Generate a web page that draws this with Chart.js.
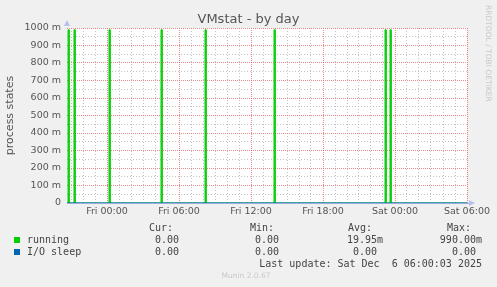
<!DOCTYPE html>
<html><head><meta charset="utf-8">
<script src="https://cdn.jsdelivr.net/npm/chart.js@4/dist/chart.umd.min.js"></script>
<style>
html,body{margin:0;padding:0;background:#f0f0f0;}
#wrap{position:relative;width:497px;height:287px;overflow:hidden;background:#f0f0f0;}
#c{position:absolute;left:0;top:0;}
.m{position:absolute;white-space:pre;font-family:"DejaVu Sans Mono",monospace;font-size:10px;line-height:12px;color:#444;}
.r{text-align:right;}
.sq{position:absolute;width:6px;height:6px;}
#title{position:absolute;left:0;width:497px;top:11px;text-align:center;font-family:"DejaVu Sans",sans-serif;font-size:13px;line-height:15px;color:#555;}
#rrd{position:absolute;left:484px;top:5px;writing-mode:vertical-rl;font-family:"DejaVu Sans",sans-serif;font-size:7.5px;color:#c8c8c8;white-space:pre;}
#munin{position:absolute;left:0;width:492px;top:271px;text-align:center;font-family:"DejaVu Sans",sans-serif;font-size:7.5px;color:#c8c8c8;}
</style></head>
<body><div id="wrap"><canvas id="c" width="497" height="287"></canvas>
<div id="title"></div><div id="rrd"></div><div id="munin"></div><div id="legend"></div></div>
<script>
// ---- data ----
const chartTitle = "VMstat - by day";
const yAxisLabel = "process states";
const seriesNames = ["running", "I/O sleep"];
const seriesColors = ["#00cc00", "#0066b3"];
// hours relative to Fri 00:00 (window: Thu 20:40 .. Sat 06:00)
const xMinHours = -10 / 3;
const xMaxHours = 30;
const runningSpikeHours = [-3.25, -2.75, 0.1667, 4.5, 8.1667, 13.9167, 23.1667, 23.5833];
const runningSpikeValues = [0.99, 0.99, 0.99, 0.99, 0.99, 0.99, 0.99, 0.99];
const sampleHours = 5 / 60;
const ioSleepHours = [xMinHours, xMaxHours];
const ioSleepValues = [0, 0];
const xTickHours = [0, 6, 12, 18, 24, 30];
const xTickLabels = ["Fri 00:00", "Fri 06:00", "Fri 12:00", "Fri 18:00", "Sat 00:00", "Sat 06:00"];
const yTickValues = [0, 0.1, 0.2, 0.3, 0.4, 0.5, 0.6, 0.7, 0.8, 0.9, 1.0];
const yTickLabels = ["0", "100 m", "200 m", "300 m", "400 m", "500 m", "600 m", "700 m", "800 m", "900 m", "1000 m"];
const curValues = ["0.00 ", "0.00 "];
const minValues = ["0.00 ", "0.00 "];
const avgValues = ["19.95m", "0.00 "];
const maxValues = ["990.00m", "0.00 "];
const lastUpdate = "Last update: Sat Dec  6 06:00:03 2025";
const rrdText = "RRDTOOL / TOBI OETIKER";
const muninText = "Munin 2.0.67";

// ---- build datasets ----
const runningPts = [{x: xMinHours, y: 0}];
runningSpikeHours.forEach((t, i) => {
  const v = runningSpikeValues[i];
  runningPts.push({x: t, y: 0}, {x: t, y: v}, {x: t + sampleHours, y: v}, {x: t + sampleHours, y: 0});
});
runningPts.push({x: xMaxHours, y: 0});
const ioPts = ioSleepHours.map((h, i) => ({x: h, y: ioSleepValues[i]}));

const isMultiple = (v, s) => Math.abs(v / s - Math.round(v / s)) < 1e-6;
const MAJOR = "rgba(228,110,110,0.8)";
const MINOR = "rgba(175,175,175,0.75)";

const bgPlugin = {
  id: "bg",
  beforeDraw(chart) {
    const a = chart.chartArea, ctx = chart.ctx;
    ctx.save(); ctx.fillStyle = "#ffffff";
    ctx.fillRect(a.left, a.top, a.right - a.left, a.bottom - a.top);
    ctx.restore();
  },
  afterDraw(chart) {
    const a = chart.chartArea, ctx = chart.ctx;
    ctx.save();
    ctx.fillStyle = "#b8c0f0";
    ctx.beginPath();
    ctx.moveTo(a.left - 3, a.top - 2); ctx.lineTo(a.left + 3, a.top - 2); ctx.lineTo(a.left, a.top - 8); ctx.closePath(); ctx.fill();
    ctx.beginPath();
    ctx.moveTo(a.right + 2, a.bottom - 3); ctx.lineTo(a.right + 2, a.bottom + 3); ctx.lineTo(a.right + 8, a.bottom); ctx.closePath(); ctx.fill();
    ctx.strokeStyle = "#9aaae0"; ctx.lineWidth = 1;
    ctx.beginPath(); ctx.moveTo(a.left, Math.round(a.bottom) + 0.5); ctx.lineTo(a.right + 2, Math.round(a.bottom) + 0.5); ctx.stroke();
    ctx.restore();
  }
};

new Chart(document.getElementById("c"), {
  type: "line",
  data: {
    datasets: [
      {label: seriesNames[0], data: runningPts, borderColor: seriesColors[0], borderWidth: 1, pointRadius: 0, tension: 0, fill: false, order: 2},
      {label: seriesNames[1], data: ioPts, borderColor: seriesColors[1], borderWidth: 1, pointRadius: 0, tension: 0, fill: false, order: 1, clip: false}
    ]
  },
  options: {
    responsive: false, animation: false, devicePixelRatio: 1,
    layout: {padding: {left: 0, top: 28, right: 30, bottom: 64}},
    plugins: {legend: {display: false}, tooltip: {enabled: false}, title: {display: false}},
    scales: {
      x: {
        type: "linear", min: xMinHours, max: xMaxHours,
        afterBuildTicks(axis) {
          const t = [];
          for (let h = Math.ceil(xMinHours); h <= xMaxHours; h++) t.push({value: h});
          axis.ticks = t;
        },
        afterFit(scale) { scale.height = 20; },
        ticks: {
          autoSkip: false, maxRotation: 0, padding: 3, color: "#555",
          font: {family: "DejaVu Sans", size: 9.5},
          callback(v) { const i = xTickHours.findIndex(h => Math.abs(h - v) < 1e-6); return i >= 0 ? xTickLabels[i] : ""; }
        },
        grid: {drawTicks: false, lineWidth: 1, color: (c) => (c.tick && isMultiple(c.tick.value, 6)) ? MAJOR : MINOR},
        border: {display: false, dash: (c) => (c.tick && isMultiple(c.tick.value, 6)) ? [1, 1] : [1, 2]}
      },
      y: {
        type: "linear", min: 0, max: 1,
        afterBuildTicks(axis) {
          const t = [];
          for (let i = 0; i <= 20; i++) t.push({value: i / 20});
          axis.ticks = t;
        },
        afterFit(scale) { scale.width = 67; },
        title: {display: true, text: yAxisLabel, color: "#555", font: {family: "DejaVu Sans", size: 11}, padding: {top: 4, bottom: 0}},
        ticks: {
          autoSkip: false, padding: 6, color: "#555",
          font: {family: "DejaVu Sans", size: 9.5},
          callback(v) { const i = yTickValues.findIndex(y => Math.abs(y - v) < 1e-6); return i >= 0 ? yTickLabels[i] : ""; }
        },
        grid: {drawTicks: false, lineWidth: 1, color: (c) => (c.tick && isMultiple(c.tick.value, 0.1)) ? MAJOR : MINOR},
        border: {display: false, dash: (c) => (c.tick && isMultiple(c.tick.value, 0.1)) ? [1, 1] : [1, 2]}
      }
    }
  },
  plugins: [bgPlugin]
});

// ---- text blocks ----
document.getElementById("title").textContent = chartTitle;
document.getElementById("rrd").textContent = rrdText;
document.getElementById("munin").textContent = muninText;
const lg = document.getElementById("legend");
function txt(s, x, y, right) {
  const d = document.createElement("div");
  d.className = "m" + (right ? " r" : "");
  d.textContent = s;
  d.style.top = (y - 6) + "px";
  if (right) { d.style.right = (497 - x) + "px"; } else { d.style.left = x + "px"; }
  lg.appendChild(d);
}
txt("Cur:", 149, 228); txt("Min:", 250, 228); txt("Avg:", 348, 228); txt("Max:", 447, 228);
seriesNames.forEach((n, i) => {
  const y = 240 + i * 12;
  const sq = document.createElement("div");
  sq.className = "sq"; sq.style.left = "14px"; sq.style.top = (y - 3) + "px"; sq.style.background = seriesColors[i];
  lg.appendChild(sq);
  txt(n, 27, y);
  txt(curValues[i], 185, y, true);
  txt(minValues[i], 285, y, true);
  txt(avgValues[i], 383, y, true);
  txt(maxValues[i], 482, y, true);
});
txt(lastUpdate, 482, 264, true);
</script></body></html>
